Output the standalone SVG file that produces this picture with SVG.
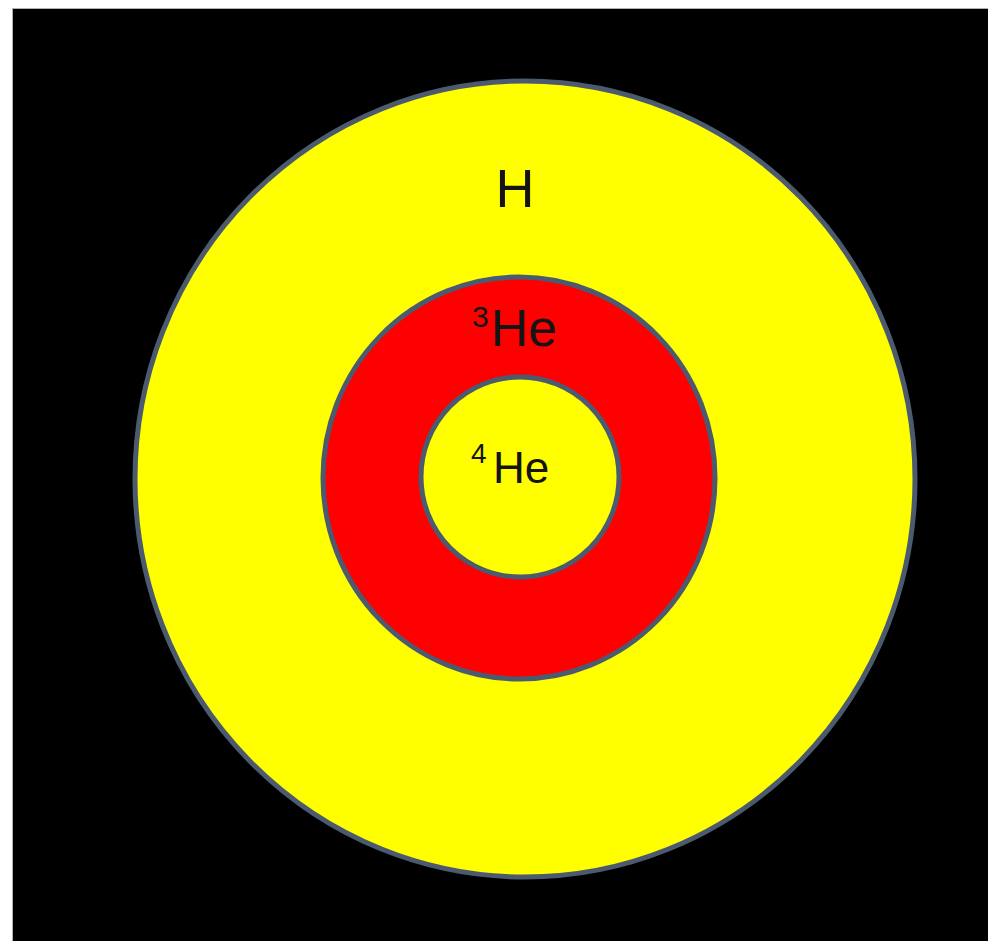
<svg xmlns="http://www.w3.org/2000/svg" width="988" height="941" viewBox="0 0 988 941">
<style>
.ring{stroke:#4b5a6e;stroke-width:5}
.lbl{font-family:"Liberation Sans",Arial,sans-serif;fill:#141414}
</style>
<rect x="0" y="0" width="988" height="941" fill="#ffffff"/>
<rect x="12.5" y="8.5" width="980" height="940" fill="#000000" stroke="#b0b0b0" stroke-width="1"/>
<g id="outer-H">
<ellipse class="ring" cx="525" cy="479" rx="390" ry="398" fill="#ffff00"/>
<text class="lbl" x="515" y="207" font-size="54" text-anchor="middle">H</text>
</g>
<g id="middle-3He">
<ellipse class="ring" cx="519" cy="478" rx="196" ry="201" fill="#ff0000"/>
<text class="lbl" x="472" y="346"><tspan font-size="30" y="327">3</tspan><tspan font-size="52" x="491" y="346">He</tspan></text>
</g>
<g id="inner-4He">
<ellipse class="ring" cx="520" cy="477" rx="99" ry="100" fill="#ffff00"/>
<text class="lbl" x="471" y="483"><tspan font-size="28" y="463">4</tspan><tspan font-size="44" x="493" y="483">He</tspan></text>
</g>
<g id="connectors"></g>
</svg>
